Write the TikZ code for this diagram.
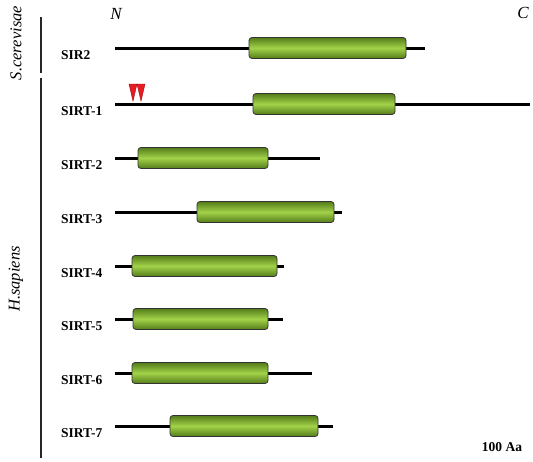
\documentclass[tikz,border=0pt]{standalone}
\usepackage{fontspec}
\setmainfont{Liberation Serif}
\definecolor{gdark}{RGB}{84,124,26}
\definecolor{glight}{RGB}{162,210,74}
\definecolor{tred}{RGB}{232,28,36}
\tikzset{
  backbone/.style={line width=3pt, black},
  domainbox/.style={draw=black!80, line width=0.8pt, rounded corners=3pt,
    top color=gdark, bottom color=gdark, middle color=glight,
    minimum height=21pt, inner sep=0pt},
  protlab/.style={anchor=west, font=\fontsize{13.5}{15}\selectfont\bfseries, inner sep=0pt},
  termlab/.style={font=\fontsize{17}{19}\selectfont\itshape, inner sep=0pt},
  orglab/.style={font=\fontsize{16.5}{18}\selectfont\itshape, rotate=90, inner sep=0pt},
  orgline/.style={line width=1.3pt, black!85},
  redmark/.style={fill=tred, draw=red!60!black, line width=0.4pt}
}
\begin{document}
\begin{tikzpicture}[x=1pt, y=-1pt]
\useasboundingbox (0,0) rectangle (533,461);
% organism brackets
\coordinate (o1a) at (41,17); \coordinate (o1b) at (41,73);
\coordinate (o2a) at (41,78); \coordinate (o2b) at (41,458);
\draw[orgline] (o1a) -- (o1b);
\draw[orgline] (o2a) -- (o2b);
\node[orglab] (sc) at (16,43) {S.cerevisae};
\node[orglab] (hs) at (16,279) {H.sapiens};
% termini
\node[termlab] (nterm) at (116,14) {N};
\node[termlab] (cterm) at (523,13) {C};
% proteins
\foreach \i/\lab/\y/\xe/\bl/\br in {
  0/SIR2/48/425/249/406,
  1/SIRT-1/104/530/253/395,
  2/SIRT-2/158/320/138/268,
  3/SIRT-3/212/342/197/334,
  4/SIRT-4/266/284/132/277,
  5/SIRT-5/319/283/133/268,
  6/SIRT-6/373/312/132/268,
  7/SIRT-7/426/333/170/318}{
  \coordinate (s\i) at (115,\y);
  \coordinate (e\i) at (\xe,\y);
  \draw[backbone] (s\i) -- (e\i);
  \node[domainbox, minimum width={(\br-\bl)*1pt}] (d\i) at ({(\bl+\br)/2},\y) {};
  \node[protlab] (l\i) at (61,{\y+7}) {\lab};
}
% red markers on SIRT-1
\draw[redmark] (129,84) -- (137,84) -- (133,101) -- cycle;
\draw[redmark] (137,84) -- (145,84) -- (141,101) -- cycle;
% scale label
\node[font=\fontsize{13.5}{15}\selectfont\bfseries, inner sep=0pt] (scale) at (502,447) {100 Aa};
\end{tikzpicture}
\end{document}
